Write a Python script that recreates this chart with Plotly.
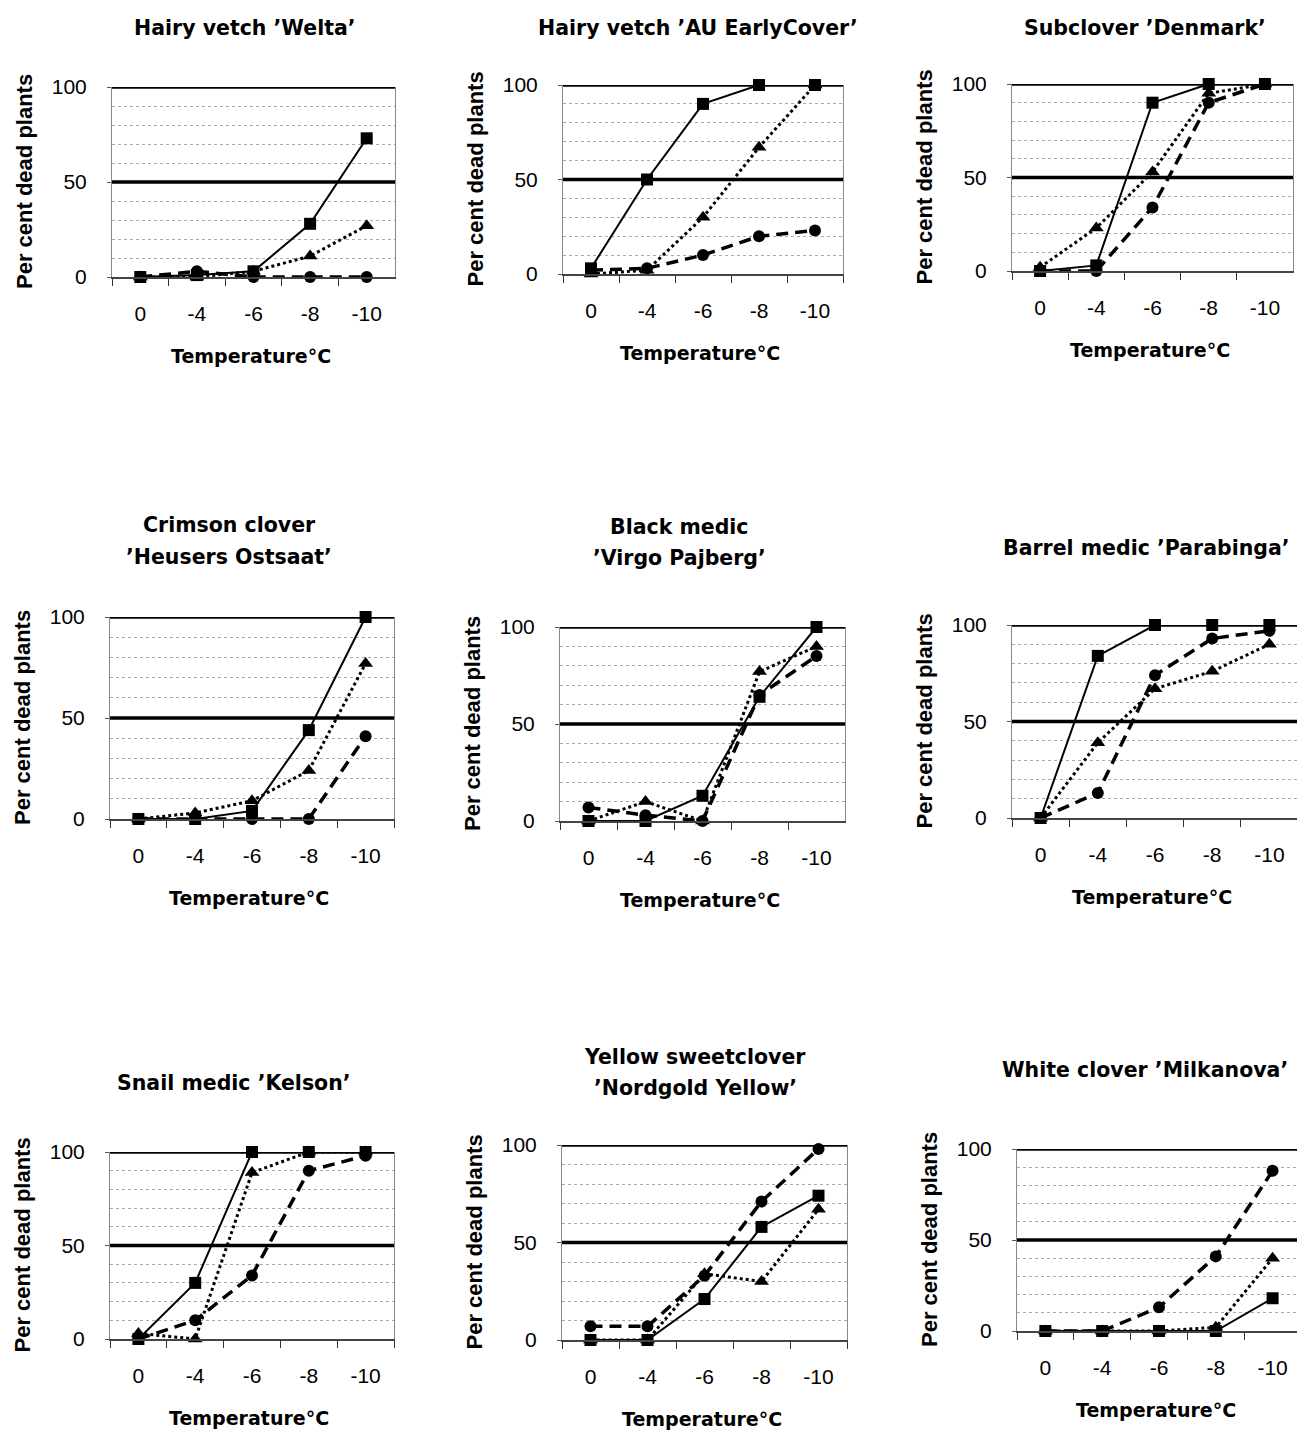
import plotly.graph_objects as go

W, H = 1305, 1431
PAGE_OFFSET = 8  # default body margin of the html page

temps = ["0", "-4", "-6", "-8", "-10"]

titles = [
    ["Hairy vetch ’Welta’"],
    ["Hairy vetch ’AU EarlyCover’"],
    ["Subclover ’Denmark’"],
    ["Crimson clover", "’Heusers Ostsaat’"],
    ["Black medic", "’Virgo Pajberg’"],
    ["Barrel medic ’Parabinga’"],
    ["Snail medic ’Kelson’"],
    ["Yellow sweetclover", "’Nordgold Yellow’"],
    ["White clover ’Milkanova’"],
]

# per cent dead plants: square (solid), triangle (dotted), circle (dashed)
square = [
    [0, 1, 3, 28, 73],
    [3, 50, 90, 100, 100],
    [0, 3, 90, 100, 100],
    [0, 0, 4, 44, 100],
    [0, 0, 13, 64, 100],
    [0, 84, 100, 100, 100],
    [0, 30, 100, 100, 100],
    [0, 0, 21, 58, 74],
    [0, 0, 0, 0, 18],
]
triangle = [
    [0, 0, 3, 11, 27],
    [0, 2, 30, 67, 100],
    [2, 23, 53, 95, 100],
    [0, 3, 9, 24, 77],
    [0, 10, 0, 77, 90],
    [0, 39, 67, 76, 90],
    [3, 0, 89, 100, 100],
    [0, 0, 34, 30, 67],
    [0, 0, 0, 2, 40],
]
circle = [
    [0, 3, 0, 0, 0],
    [2, 3, 10, 20, 23],
    [0, 0, 34, 90, 100],
    [0, 0, 0, 0, 41],
    [7, 3, 0, 65, 85],
    [0, 13, 74, 93, 97],
    [0, 10, 34, 90, 98],
    [7, 7, 33, 71, 98],
    [0, 0, 13, 41, 88],
]

threshold = 50

# layout (pixel boxes: left, right, top, bottom)
boxes = [
    (112, 395, 87, 277), (563, 843, 85, 274), (1012, 1293, 84, 271),
    (110, 394, 617, 819), (560, 845, 627, 821), (1012, 1298, 625, 818),
    (110, 394, 1152, 1339), (562, 847, 1145, 1340), (1017, 1301, 1149, 1331),
]
title_pos = [
    (245, [28]), (698, [28]), (1145, [28]),
    (229, [525, 557]), (679, [527, 558]), (1146, [548]),
    (234, [1083]), (695, [1057, 1088]), (1145, [1070]),
]

def fx(x):
    return (x - PAGE_OFFSET) / W

def fy(y):
    return 1 - (y - PAGE_OFFSET) / H

FONT = "Liberation Sans, Arial, sans-serif"
WIDE = "DejaVu Sans, Liberation Sans, sans-serif"
fig = go.Figure()
annotations = []
shapes = []

styles = [
    (square, "square", "solid", 2, 12),
    (triangle, "triangle-up", "dot", 3, 13),
    (circle, "circle", "12px,7px", 3.5, 12),
]

for i in range(9):
    n = "" if i == 0 else str(i + 1)
    xa, ya = "x" + n, "y" + n
    for data, sym, dash, lw, ms in styles:
        fig.add_trace(go.Scatter(
            x=temps, y=data[i], xaxis=xa, yaxis=ya, mode="lines+markers",
            line=dict(color="black", width=lw, dash=dash),
            marker=dict(symbol=sym, size=ms, color="black"),
            cliponaxis=False, showlegend=False,
        ))
    l, r, t, b = boxes[i]
    fig.layout["xaxis" + n] = dict(
        domain=[fx(l), fx(r)], anchor=ya, type="category", automargin=False,
        range=[-0.5, 4.5], tickson="boundaries", ticks="outside", ticklen=7,
        tickcolor="#333", showline=True, linecolor="#444", linewidth=1.5,
        mirror=False, showgrid=False, zeroline=False,
        tickfont=dict(family=FONT, size=21, color="black"),
        ticklabelstandoff=17, fixedrange=True,
    )
    fig.layout["yaxis" + n] = dict(
        domain=[fy(b), fy(t)], anchor=xa, range=[0, 100], automargin=False,
        tickmode="linear", tick0=0, dtick=50, ticks="outside", ticklen=4,
        tickcolor="#555", showline=True, linecolor="#888", linewidth=1,
        mirror=True, showgrid=False, zeroline=False,
        tickfont=dict(family=FONT, size=21, color="black"),
        ticklabelstandoff=16,
        minor=dict(dtick=10, tick0=0, showgrid=True, gridcolor="#aaa",
                   griddash="dot", gridwidth=1, ticks=""),
        fixedrange=True,
    )
    for yv in (threshold, 100):
        shapes.append(dict(type="line", xref=xa + " domain", yref=ya,
                           x0=0, x1=1, y0=yv, y1=yv,
                           line=dict(color="black", width=3.5), layer="below"))
    # titles
    cx, ys = title_pos[i]
    for line, yy in zip(titles[i], ys):
        annotations.append(dict(text="<b>%s</b>" % line, x=fx(cx), y=fy(yy),
                                xref="paper", yref="paper", showarrow=False,
                                xanchor="center", yanchor="middle",
                                font=dict(family=WIDE, size=20.5, color="black")))
    # y title
    annotations.append(dict(text="<b>Per cent dead plants</b>", x=fx(l - 88),
                            y=fy((t + b) / 2), xref="paper", yref="paper",
                            showarrow=False, textangle=-90, xanchor="center",
                            yanchor="middle",
                            font=dict(family=FONT, size=22, color="black")))
    # x title
    annotations.append(dict(text="<b>Temperature°C</b>", x=fx((l + r) / 2 - 3),
                            y=fy(b + 79), xref="paper", yref="paper",
                            showarrow=False, xanchor="center", yanchor="middle",
                            font=dict(family=WIDE, size=19, color="black")))

fig.update_layout(
    width=W, height=H, margin=dict(l=0, r=0, t=0, b=0, autoexpand=False),
    paper_bgcolor="white", plot_bgcolor="white",
    annotations=annotations, shapes=shapes, showlegend=False,
)
fig.write_html("out.html")
